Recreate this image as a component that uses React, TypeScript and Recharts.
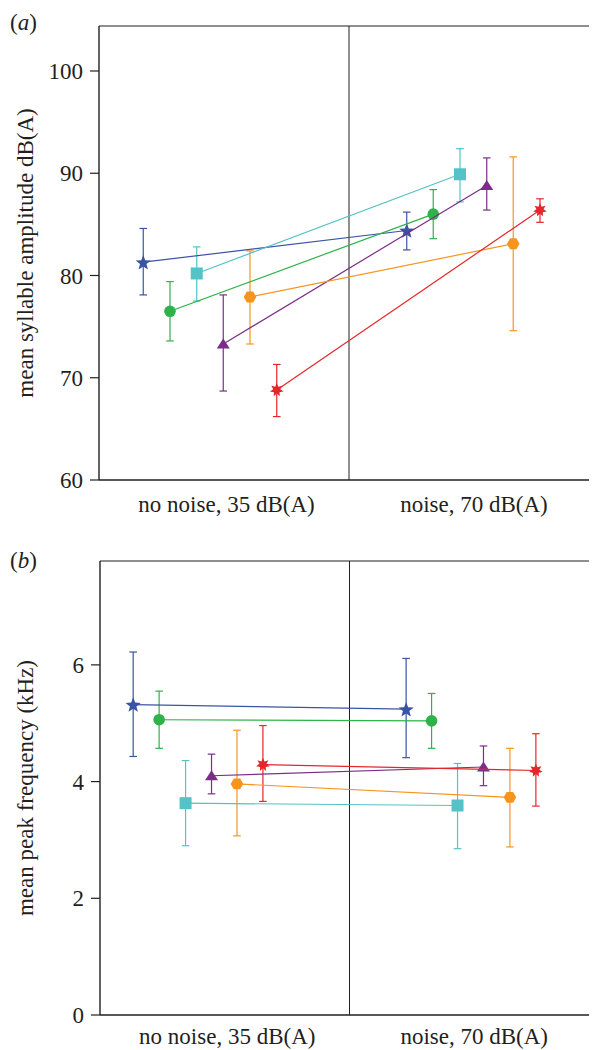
import React from 'react';
import { ScatterChart, Scatter, XAxis, YAxis, ErrorBar, ReferenceLine } from 'recharts';

// conditions on the x axis
const conditions = ['no noise, 35 dB(A)', 'noise, 70 dB(A)'];
const conditionTicks = [0.51, 1.5];

// one entry per individual, same order everywhere
const markers = ['star5', 'circle', 'square', 'triangle', 'hexagon', 'star6'];
const colors = ['#3b53a4', '#2db34a', '#52c3c7', '#7a2e86', '#f7941d', '#e5262b'];

// (a) syllable amplitude, [no noise, noise]
const ampMean = [[81.3, 84.4], [76.5, 86.0], [80.2, 89.9], [73.3, 88.8], [77.9, 83.1], [68.8, 86.4]];
const ampLow = [[78.1, 82.5], [73.6, 83.6], [77.5, 87.2], [68.7, 86.4], [73.3, 74.6], [66.2, 85.2]];
const ampHigh = [[84.6, 86.2], [79.4, 88.4], [82.8, 92.4], [78.1, 91.5], [82.4, 91.6], [71.3, 87.5]];
const ampX = [[0.177, 1.231], [0.284, 1.337], [0.391, 1.444], [0.497, 1.551], [0.604, 1.657], [0.711, 1.764]];
const ampTicks = [60, 70, 80, 90, 100];

// (b) peak frequency, [no noise, noise]
const freqMean = [[5.32, 5.24], [5.06, 5.04], [3.63, 3.59], [4.10, 4.25], [3.96, 3.73], [4.29, 4.19]];
const freqLow = [[4.43, 4.41], [4.57, 4.57], [2.90, 2.85], [3.79, 3.93], [3.07, 2.88], [3.66, 3.58]];
const freqHigh = [[6.22, 6.11], [5.55, 5.51], [4.36, 4.31], [4.47, 4.61], [4.88, 4.57], [4.96, 4.82]];
const freqX = [[0.133, 1.227], [0.237, 1.329], [0.343, 1.433], [0.447, 1.537], [0.549, 1.643], [0.653, 1.747]];
const freqTicks = [0, 2, 4, 6];

const FONT = '"Liberation Serif", "Times New Roman", serif';
const INK = '#231f20';

const starPoints = (cx: number, cy: number, n: number, ro: number, ri: number) => {
  const pts: string[] = [];
  for (let i = 0; i < n * 2; i++) {
    const r = i % 2 === 0 ? ro : ri;
    const a = -Math.PI / 2 + (i * Math.PI) / n;
    pts.push(`${cx + r * Math.cos(a)},${cy + r * Math.sin(a)}`);
  }
  return pts.join(' ');
};

const Marker = ({ cx, cy, kind, color }: any) => {
  if (cx == null || cy == null) return null;
  switch (kind) {
    case 'star5':
      return <polygon points={starPoints(cx, cy + 0.8, 5, 8, 3.4)} fill={color} />;
    case 'circle':
      return <circle cx={cx} cy={cy} r={5.8} fill={color} />;
    case 'square':
      return <rect x={cx - 6} y={cy - 6} width={12} height={12} fill={color} />;
    case 'triangle':
      return <polygon points={`${cx},${cy - 5.5} ${cx - 6.5},${cy + 4.5} ${cx + 6.5},${cy + 4.5}`} fill={color} />;
    case 'hexagon': {
      const pts = [0, 1, 2, 3, 4, 5]
        .map((i) => `${cx + 6.3 * Math.cos((i * Math.PI) / 3)},${cy + 6.3 * Math.sin((i * Math.PI) / 3)}`)
        .join(' ');
      return <polygon points={pts} fill={color} />;
    }
    default:
      return <polygon points={starPoints(cx, cy, 7, 7, 3.6)} fill={color} />;
  }
};

const buildSeries = (mean: number[][], low: number[][], high: number[][], xs: number[][]) =>
  mean.map((m, i) =>
    [0, 1].map((c) => ({
      x: xs[i][c],
      y: m[c],
      err: [m[c] - low[i][c], high[i][c] - m[c]],
    }))
  );

const tickStyle = { fill: INK, fontSize: 23, fontFamily: FONT };

interface PanelProps {
  mean: number[][];
  low: number[][];
  high: number[][];
  xs: number[][];
  yDomain: [number, number];
  yTicks: number[];
  height: number;
  margin: { top: number; right: number; left: number; bottom: number };
  axisWidth: number;
  xAxisHeight: number;
  xTickMargin: number;
}

const Panel = ({ mean, low, high, xs, yDomain, yTicks, height, margin, axisWidth, xAxisHeight, xTickMargin }: PanelProps) => {
  const series = buildSeries(mean, low, high, xs);
  return (
    <ScatterChart width={591} height={height} margin={margin}>
      <XAxis
        type="number"
        dataKey="x"
        domain={[0, 2]}
        ticks={conditionTicks}
        tickFormatter={(_v: number, i: number) => conditions[i]}
        tick={tickStyle}
        tickLine={false}
        tickSize={8}
        tickMargin={xTickMargin}
        height={xAxisHeight}
        axisLine={{ stroke: INK, strokeWidth: 1.4 }}
        allowDataOverflow
      />
      <YAxis
        type="number"
        dataKey="y"
        domain={yDomain}
        ticks={yTicks}
        tick={tickStyle}
        tickSize={9}
        tickMargin={7}
        width={axisWidth}
        axisLine={{ stroke: INK, strokeWidth: 1.4 }}
        tickLine={{ stroke: INK, strokeWidth: 1.2 }}
        allowDataOverflow
      />
      <ReferenceLine y={yDomain[1]} stroke={INK} strokeWidth={1.2} />
      <ReferenceLine x={1} stroke={INK} strokeWidth={1} />
      {series.map((data, i) => (
        <Scatter
          key={markers[i]}
          data={data}
          line={{ stroke: colors[i], strokeWidth: 1.2 }}
          shape={(p: any) => <Marker cx={p.cx} cy={p.cy} kind={markers[i]} color={colors[i]} />}
          isAnimationActive={false}
        >
          <ErrorBar dataKey="err" direction="y" width={3.8} stroke={colors[i]} strokeWidth={1.2} isAnimationActive={false} />
        </Scatter>
      ))}
    </ScatterChart>
  );
};

const sideLabel = (top: number): React.CSSProperties => ({
  position: 'absolute',
  left: 17,
  top,
  transform: 'translate(-50%, -50%) rotate(-90deg)',
  whiteSpace: 'nowrap',
  fontFamily: FONT,
  fontSize: 23,
  color: INK,
  lineHeight: '23px',
});

const panelTag: React.CSSProperties = {
  position: 'absolute',
  left: 2,
  fontFamily: FONT,
  fontSize: 23,
  color: INK,
  lineHeight: '23px',
};

export default function App() {
  return (
    <div style={{ position: 'relative', width: 589, overflow: 'hidden' }}>
      <Panel
        mean={ampMean}
        low={ampLow}
        high={ampHigh}
        xs={ampX}
        yDomain={[60, 104.4]}
        yTicks={ampTicks}
        height={530}
        margin={{ top: 18, right: 0, left: 0, bottom: 18 }}
        axisWidth={91}
        xAxisHeight={40}
        xTickMargin={8}
      />
      <Panel
        mean={freqMean}
        low={freqLow}
        high={freqHigh}
        xs={freqX}
        yDomain={[0, 7.78]}
        yTicks={freqTicks}
        height={520}
        margin={{ top: 23, right: 0, left: 0, bottom: 8 }}
        axisWidth={92}
        xAxisHeight={35}
        xTickMargin={5}
      />
      <div style={{ ...panelTag, top: 3 }}>
        (<i>a</i>)
      </div>
      <div style={{ ...panelTag, top: 541 }}>
        (<i>b</i>)
      </div>
      <div style={sideLabel(245)}>mean syllable amplitude dB(A)</div>
      <div style={sideLabel(780)}>mean peak frequency (kHz)</div>
    </div>
  );
}
